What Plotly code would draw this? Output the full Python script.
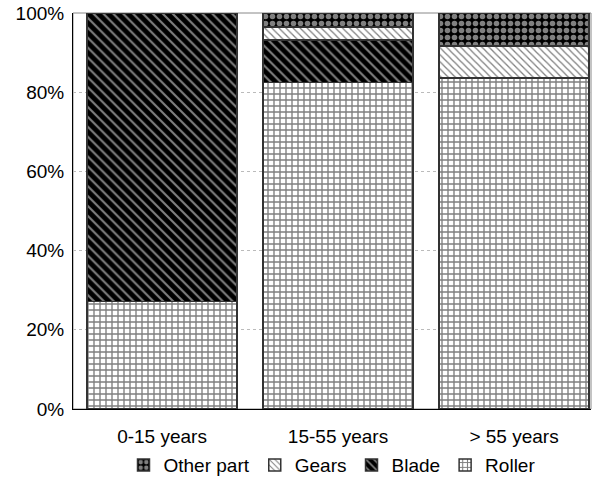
import plotly.graph_objects as go

categories = ["0-15 years", "15-55 years", "> 55 years"]
roller = [27.2, 82.5, 83.6]
blade = [72.8, 10.7, 0]
gears = [0, 3.3, 8.1]
other = [0, 3.5, 8.3]
y_ticks = [0, 20, 40, 60, 80, 100]
y_tick_labels = ["0%", "20%", "40%", "60%", "80%", "100%"]

series = [
    ("Roller", roller, dict(shape="+", bgcolor="white", fgcolor="black", size=6, solidity=0.4)),
    ("Blade", blade, dict(shape="\\", bgcolor="black", fgcolor="white", size=7, solidity=0.3)),
    ("Gears", gears, dict(shape="\\", bgcolor="white", fgcolor="black", size=5, solidity=0.25)),
    ("Other part", other, dict(shape=".", bgcolor="black", fgcolor="white", size=7, solidity=0.5)),
]

fig = go.Figure()
for name, vals, pat in series:
    fig.add_trace(go.Bar(
        x=categories, y=vals, name=name,
        marker=dict(color="white", line=dict(color="#333333", width=1.5), pattern=pat),
        width=0.852,
    ))

font = dict(family="Liberation Sans, Arial, sans-serif", size=19, color="black")
fig.update_layout(
    barmode="stack",
    width=595, height=484,
    margin=dict(l=73, r=4, t=13, b=75),
    paper_bgcolor="white", plot_bgcolor="white",
    font=font,
    showlegend=True,
    legend=dict(orientation="h", x=0.5, xanchor="center", yref="container", y=0.039,
                yanchor="middle", bgcolor="rgba(0,0,0,0)",
                traceorder="reversed", font=font, itemwidth=30, tracegroupgap=0),
    xaxis=dict(range=[-0.506, 2.4375], showline=True, linecolor="black", linewidth=1,
               mirror=False, ticks="", tickfont=font, showgrid=False, automargin=False,
               ticklabelstandoff=10),
    yaxis=dict(range=[0, 100], tickvals=y_ticks, ticktext=y_tick_labels, showline=True,
               linecolor="black", linewidth=1, ticks="", showgrid=True,
               gridcolor="#bbbbbb", griddash="dot", gridwidth=1, tickfont=font, zeroline=False,
               automargin=False, ticklabelstandoff=4),
    shapes=[dict(type="rect", xref="paper", yref="paper", x0=0, x1=1, y0=0, y1=1,
                 line=dict(color="#888888", width=1), layer="below")],
)
fig.write_html("out.html", config={"displayModeBar": False},
               post_script="document.body.style.margin='0';document.body.style.padding='0';")
